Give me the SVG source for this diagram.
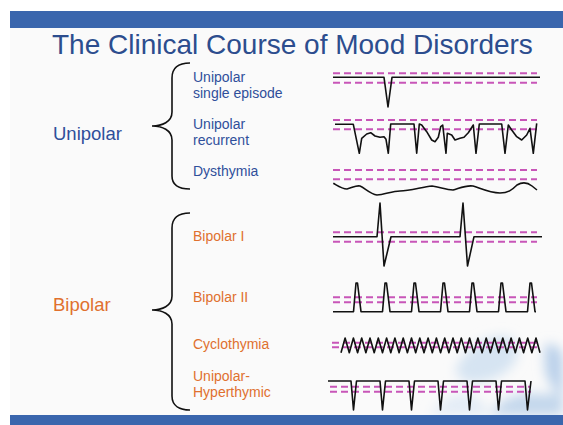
<svg xmlns="http://www.w3.org/2000/svg" width="563" height="425" viewBox="0 0 563 425">
<style>
.t{font-family:"Liberation Sans",Arial,sans-serif}
.blue{fill:#2f4f9a}
.org{fill:#e0702e}
.lbl{font-size:14px}
.big{font-size:18.5px}
.dash{stroke:#c855b8;stroke-width:2;stroke-dasharray:7,4;fill:none}
.trace{stroke:#111;stroke-width:1.6;fill:none;stroke-linejoin:round}
.brace{stroke:#111;stroke-width:1.6;fill:none}
.bar{fill:#3a66ad}
</style>
<defs>
<filter id="blur" x="-30%" y="-30%" width="160%" height="160%"><feGaussianBlur stdDeviation="6"/></filter>
</defs>
<rect width="563" height="425" fill="#ffffff"/>
<rect x="10" y="11" width="553" height="414" fill="#fafafa"/>
<g id="watermark" filter="url(#blur)">
<path d="M455,372 C462,352 480,338 500,336 C515,334 522,350 515,362 C505,378 480,385 465,382 Z" fill="#d6e4f2"/>
<path d="M545,345 C555,342 563,350 563,360 L563,395 C555,392 545,380 545,365 Z" fill="#b9d0ea"/>
<path d="M490,415 C500,398 520,392 540,394 C552,395 563,392 563,392 L563,415 Z" fill="#c3d7ec"/>
<path d="M430,415 C440,400 455,392 470,395 C480,398 488,408 490,415 Z" fill="#e3ecf6"/>
</g>
<rect class="bar" x="10" y="11" width="553" height="17"/>
<rect class="bar" x="10" y="415" width="553" height="10"/>
<g id="title"><text class="t" x="52" y="54" font-size="28" fill="#2c4d8e">The Clinical Course of Mood Disorders</text></g>
<g id="unipolar"><text class="t blue big" x="53" y="140">Unipolar</text></g>
<g id="bipolar"><text class="t org big" x="53" y="311">Bipolar</text></g>
<g id="connectors">
<path class="brace" d="M190,63 C180,63 172,66 172,78 L172,112 C172,122 162,126 152,126 C162,126 172,130 172,140 L172,176 C172,186 180,189 190,189"/>
<path class="brace" d="M190,213 C180,213 172,216 172,228 L172,296 C172,306 162,310 152,310 C162,310 172,314 172,324 L172,396 C172,406 180,410 190,410"/>
</g>
<g id="single-episode">
<text class="t blue lbl" x="193" y="82">Unipolar</text>
<text class="t blue lbl" x="193" y="98">single episode</text>
<line class="dash" x1="333" y1="73.3" x2="537" y2="73.3"/>
<line class="dash" x1="333" y1="82.7" x2="537" y2="82.7"/>
<path class="trace" d="M333,77.3 L384,77.3 L388,107 L392,77.3 L540,77.3"/>
</g>
<g id="recurrent">
<text class="t blue lbl" x="193" y="129">Unipolar</text>
<text class="t blue lbl" x="193" y="145">recurrent</text>
<line class="dash" x1="333" y1="120" x2="537" y2="120"/>
<line class="dash" x1="333" y1="129.3" x2="537" y2="129.3"/>
<path class="trace" d="M335,124.3 L353.3,124.3 L359.3,153.3 L361.7,138.3 L366.7,134 L370.7,132.7 L375,136 L380,137.3 L384,136.7 L386,139.3 L388.3,153.3 L390.7,124 L414,124 L416.7,153.3 L419.3,124 L421.7,125 L426.7,131.7 L431.7,140 L435,141.7 L438.3,137.3 L440.7,126.7 L442.7,125 L446,153.3 L447.3,133.3 L451.7,135 L455,140 L460,138.3 L464,137.3 L468.3,132.7 L473.3,125 L476,153.3 L479.3,124 L501.7,124 L505,153.3 L508.3,125 L511.7,130 L516.7,136.7 L521.7,140 L526.7,135 L530,128.3 L533.3,153.3 L536.7,123.3"/>
</g>
<g id="dysthymia">
<text class="t blue lbl" x="193" y="176">Dysthymia</text>
<line class="dash" x1="333" y1="170" x2="537" y2="170"/>
<line class="dash" x1="333" y1="179.3" x2="537" y2="179.3"/>
<path class="trace" d="M333.3,183.3 C338,186 342,189 347,189 C352,188 356,185 360,186 C365,188 370,194 377,195 C384,195 392,191 400,191 C410,191 422,187 432,186 C440,187 446,190 453,190 C460,188 466,185 473,186 C482,189 490,193 500,193 C508,193 512,190 517,185 C522,182 527,182 532,186 L537,190"/>
</g>
<g id="bipolar-1">
<text class="t org lbl" x="193" y="241">Bipolar I</text>
<line class="dash" x1="333" y1="232.3" x2="537" y2="232.3"/>
<line class="dash" x1="333" y1="241.7" x2="537" y2="241.7"/>
<path class="trace" d="M333,236.7 L377,236.7 L380,203 L384,266 L391,236.7 L460,236.7 L463,203 L467.5,266 L474,236.7 L542,236.7"/>
</g>
<g id="bipolar-2">
<text class="t org lbl" x="193" y="302">Bipolar II</text>
<line class="dash" x1="333" y1="297.3" x2="537" y2="297.3"/>
<line class="dash" x1="333" y1="302.3" x2="537" y2="302.3"/>
<path class="trace" d="M333,311.7 L353.5,311.7 L356,283 L357.5,283 L361,311.7 L382.5,311.7 L385,283 L386.5,283 L390,311.7 L411.5,311.7 L414,283 L415.5,283 L419,311.7 L440.5,311.7 L443,283 L444.5,283 L448,311.7 L469.5,311.7 L472,283 L473.5,283 L477,311.7 L498.5,311.7 L501,283 L502.5,283 L506,311.7 L527.5,311.7 L530,283 L531.5,283 L535,311.7 L536,311.7"/>
</g>
<g id="cyclothymia">
<text class="t org lbl" x="193" y="349">Cyclothymia</text>
<line class="dash" x1="332" y1="342.7" x2="537" y2="342.7"/>
<line class="dash" x1="332" y1="347.3" x2="537" y2="347.3"/>
<path class="trace" d="M341,352.7 L345.1,338 L349.3,352.7 L353.4,338 L357.6,352.7 L361.7,338 L365.9,352.7 L370,338 L374.2,352.7 L378.3,338 L382.5,352.7 L386.6,338 L390.8,352.7 L394.9,338 L399.1,352.7 L403.2,338 L407.4,352.7 L411.5,338 L415.7,352.7 L419.8,338 L424,352.7 L428.1,338 L432.3,352.7 L436.4,338 L440.6,352.7 L444.7,338 L448.9,352.7 L453,338 L457.2,352.7 L461.3,338 L465.5,352.7 L469.6,338 L473.8,352.7 L477.9,338 L482.1,352.7 L486.2,338 L490.4,352.7 L494.5,338 L498.7,352.7 L502.8,338 L507,352.7 L511.1,338 L515.3,352.7 L519.4,338 L523.6,352.7 L527.7,338 L531.9,352.7 L536,338 L540,352.7"/>
</g>
<g id="hyperthymic">
<text class="t org lbl" x="193" y="381">Unipolar-</text>
<text class="t org lbl" x="193" y="397">Hyperthymic</text>
<line class="dash" x1="330" y1="386.7" x2="531" y2="386.7"/>
<line class="dash" x1="330" y1="391.7" x2="531" y2="391.7"/>
<path class="trace" d="M328,381 L351,381 L353.5,410 L356.5,381 L380,381 L382.5,410 L385.5,381 L409,381 L411.5,410 L414.5,381 L438,381 L440.5,410 L443.5,381 L467,381 L469.5,410 L472.5,381 L496,381 L498.5,410 L501.5,381 L525,381 L527.5,410 L531,381"/>
</g>
</svg>
